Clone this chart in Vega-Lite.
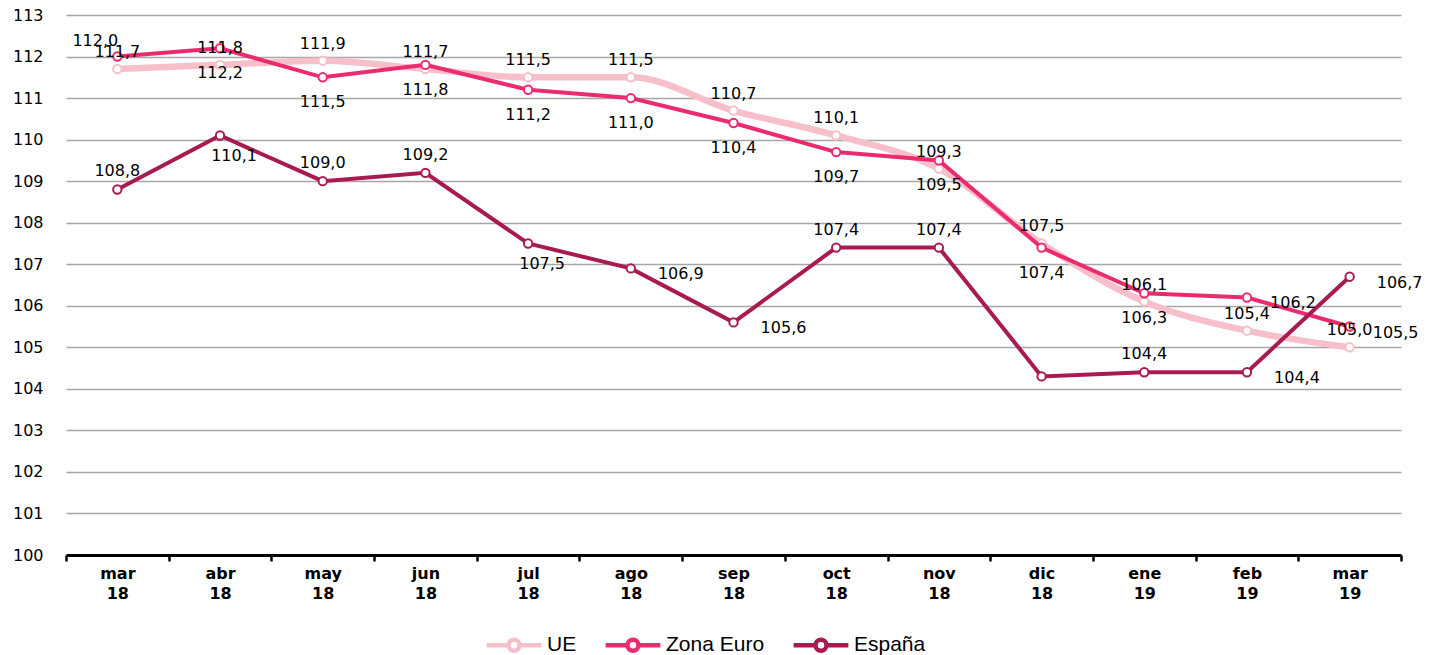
{
  "$schema": "https://vega.github.io/schema/vega-lite/v6.json",
  "width": 1335,
  "height": 540,
  "autosize": {"type": "none"},
  "padding": {"left": 66, "top": 15, "right": 28, "bottom": 100},
  "config": {
    "locale": {"number": {"decimal": ",", "thousands": ".", "grouping": [3], "currency": ["", " €"]}},
    "view": {"stroke": null},
    "background": "white"
  },
  "data": {"values": [
    {"mes": "mar 18", "serie": "UE", "valor": 111.7},
    {"mes": "mar 18", "serie": "Zona Euro", "valor": 112.0},
    {"mes": "mar 18", "serie": "España", "valor": 108.8},
    {"mes": "abr 18", "serie": "UE", "valor": 111.8},
    {"mes": "abr 18", "serie": "Zona Euro", "valor": 112.2},
    {"mes": "abr 18", "serie": "España", "valor": 110.1},
    {"mes": "may 18", "serie": "UE", "valor": 111.9},
    {"mes": "may 18", "serie": "Zona Euro", "valor": 111.5},
    {"mes": "may 18", "serie": "España", "valor": 109.0},
    {"mes": "jun 18", "serie": "UE", "valor": 111.7},
    {"mes": "jun 18", "serie": "Zona Euro", "valor": 111.8},
    {"mes": "jun 18", "serie": "España", "valor": 109.2},
    {"mes": "jul 18", "serie": "UE", "valor": 111.5},
    {"mes": "jul 18", "serie": "Zona Euro", "valor": 111.2},
    {"mes": "jul 18", "serie": "España", "valor": 107.5},
    {"mes": "ago 18", "serie": "UE", "valor": 111.5},
    {"mes": "ago 18", "serie": "Zona Euro", "valor": 111.0},
    {"mes": "ago 18", "serie": "España", "valor": 106.9},
    {"mes": "sep 18", "serie": "UE", "valor": 110.7},
    {"mes": "sep 18", "serie": "Zona Euro", "valor": 110.4},
    {"mes": "sep 18", "serie": "España", "valor": 105.6},
    {"mes": "oct 18", "serie": "UE", "valor": 110.1},
    {"mes": "oct 18", "serie": "Zona Euro", "valor": 109.7},
    {"mes": "oct 18", "serie": "España", "valor": 107.4},
    {"mes": "nov 18", "serie": "UE", "valor": 109.3},
    {"mes": "nov 18", "serie": "Zona Euro", "valor": 109.5},
    {"mes": "nov 18", "serie": "España", "valor": 107.4},
    {"mes": "dic 18", "serie": "UE", "valor": 107.5},
    {"mes": "dic 18", "serie": "Zona Euro", "valor": 107.4},
    {"mes": "dic 18", "serie": "España", "valor": 104.3},
    {"mes": "ene 19", "serie": "UE", "valor": 106.1},
    {"mes": "ene 19", "serie": "Zona Euro", "valor": 106.3},
    {"mes": "ene 19", "serie": "España", "valor": 104.4},
    {"mes": "feb 19", "serie": "UE", "valor": 105.4},
    {"mes": "feb 19", "serie": "Zona Euro", "valor": 106.2},
    {"mes": "feb 19", "serie": "España", "valor": 104.4},
    {"mes": "mar 19", "serie": "UE", "valor": 105.0},
    {"mes": "mar 19", "serie": "Zona Euro", "valor": 105.5},
    {"mes": "mar 19", "serie": "España", "valor": 106.7}
  ]},
  "encoding": {
    "x": {
      "field": "mes", "type": "nominal", "sort": null,
      "scale": {"type": "band", "paddingInner": 0, "paddingOuter": 0},
      "axis": {
        "title": null, "labelAngle": 0, "domainColor": "#000000", "domainWidth": 3,
        "tickColor": "#000000", "tickWidth": 2.5, "tickSize": 6, "tickBand": "extent",
        "labelFont": "DejaVu Sans", "labelFontWeight": "bold", "labelFontSize": 16, "labelColor": "#000000",
        "labelPadding": 4, "labelLineHeight": 20,
        "labelExpr": "split(datum.label, ' ')", "grid": false
      }
    },
    "y": {
      "field": "valor", "type": "quantitative",
      "scale": {"domain": [100, 113], "nice": false, "zero": false},
      "axis": {
        "title": null, "values": [100,101,102,103,104,105,106,107,108,109,110,111,112,113],
        "domain": false, "ticks": false, "grid": true, "gridColor": "#A6A6A6", "gridWidth": 1.5,
        "labelFont": "DejaVu Sans", "labelFontSize": 16, "labelColor": "#000000", "labelPadding": 23
      }
    }
  },
  "layer": [
    {
      "transform": [{"filter": "datum.serie == 'UE'"}],
      "mark": {"type": "line", "interpolate": "monotone", "strokeWidth": 6.5,
        "point": {"filled": false, "fill": "white", "size": 70, "strokeWidth": 2}},
      "encoding": {
        "color": {
          "field": "serie", "type": "nominal",
          "scale": {"domain": ["UE", "Zona Euro", "España"], "range": ["#F7BFCA", "#EC2B6F", "#A81B50"]},
          "legend": {
            "title": null, "orient": "none", "legendX": 418, "legendY": 600, "direction": "horizontal",
            "symbolType": "M-1,0L-0.2,0M0.2,0L1,0M-0.2,0A0.2,0.2 0 1,0 0.2,0A0.2,0.2 0 1,0 -0.2,0",
            "symbolSize": 3000, "symbolStrokeWidth": 4.5, "symbolFillColor": "white",
            "labelFont": "Liberation Sans", "labelFontSize": 21, "labelColor": "#000000",
            "labelOffset": 3, "columnPadding": 19
          }
        }
      }
    },
    {
      "transform": [{"filter": "datum.serie != 'UE'"}],
      "mark": {"type": "line", "strokeWidth": 4,
        "point": {"filled": false, "fill": "white", "size": 70, "strokeWidth": 2}},
      "encoding": {"color": {"field": "serie", "type": "nominal"}}
    },
    {
      "transform": [{"filter": "datum.serie == 'UE'"}],
      "mark": {"type": "text", "dy": -17, "font": "DejaVu Sans", "fontSize": 16, "color": "#000000"},
      "encoding": {"text": {"field": "valor", "type": "quantitative", "format": ".1f"}}
    },
    {
      "transform": [{"filter": "datum.serie == 'Zona Euro' && indexof(['abr 18','may 18','jun 18','jul 18','ago 18','sep 18','oct 18','nov 18','dic 18','ene 19'], datum.mes) >= 0"}],
      "mark": {"type": "text", "dy": 25, "font": "DejaVu Sans", "fontSize": 16, "color": "#000000"},
      "encoding": {"text": {"field": "valor", "type": "quantitative", "format": ".1f"}}
    },
    {
      "transform": [{"filter": "datum.serie == 'Zona Euro' && datum.mes == 'mar 18'"}],
      "mark": {"type": "text", "dy": -16, "dx": -22, "font": "DejaVu Sans", "fontSize": 16, "color": "#000000"},
      "encoding": {"text": {"field": "valor", "type": "quantitative", "format": ".1f"}}
    },
    {
      "transform": [{"filter": "datum.serie == 'Zona Euro' && indexof(['feb 19','mar 19'], datum.mes) >= 0"}],
      "mark": {"type": "text", "dx": 46, "dy": 6, "font": "DejaVu Sans", "fontSize": 16, "color": "#000000"},
      "encoding": {"text": {"field": "valor", "type": "quantitative", "format": ".1f"}}
    },
    {
      "transform": [{"filter": "datum.serie == 'España' && indexof(['mar 18','may 18','jun 18','oct 18','nov 18','ene 19'], datum.mes) >= 0"}],
      "mark": {"type": "text", "dy": -18, "font": "DejaVu Sans", "fontSize": 16, "color": "#000000"},
      "encoding": {"text": {"field": "valor", "type": "quantitative", "format": ".1f"}}
    },
    {
      "transform": [{"filter": "datum.serie == 'España' && indexof(['abr 18','jul 18'], datum.mes) >= 0"}],
      "mark": {"type": "text", "dy": 21, "dx": 14, "font": "DejaVu Sans", "fontSize": 16, "color": "#000000"},
      "encoding": {"text": {"field": "valor", "type": "quantitative", "format": ".1f"}}
    },
    {
      "transform": [{"filter": "datum.serie == 'España' && indexof(['ago 18','sep 18','feb 19','mar 19'], datum.mes) >= 0"}],
      "mark": {"type": "text", "dx": 50, "dy": 6, "font": "DejaVu Sans", "fontSize": 16, "color": "#000000"},
      "encoding": {"text": {"field": "valor", "type": "quantitative", "format": ".1f"}}
    }
  ]
}
